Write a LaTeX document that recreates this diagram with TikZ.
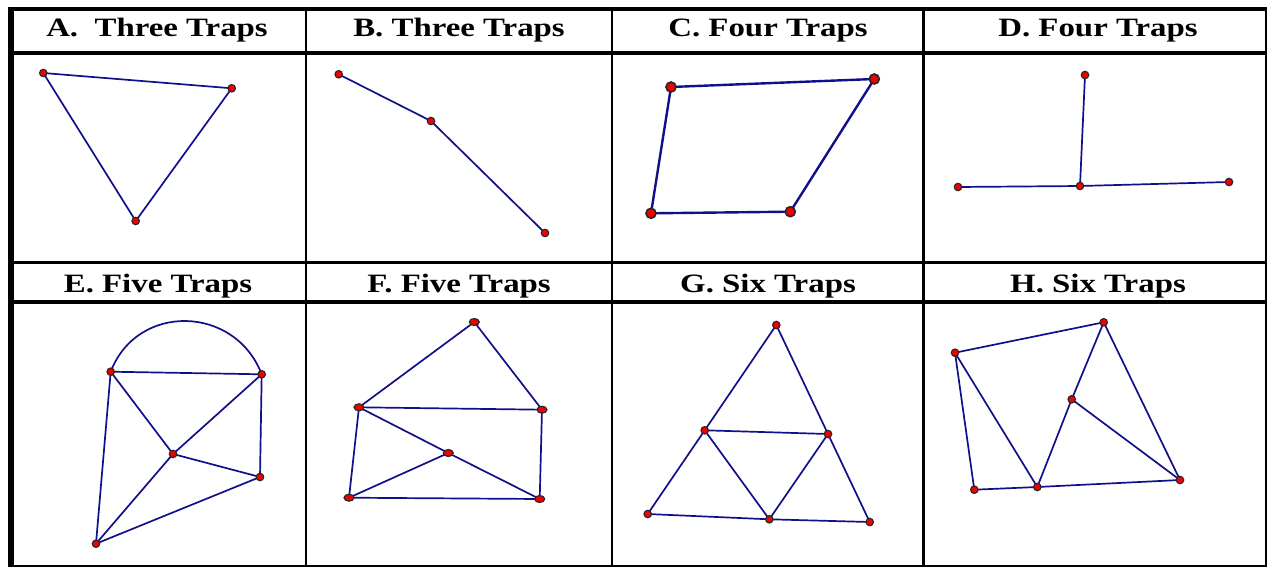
\documentclass[tikz,border=0pt]{standalone}
\usepackage{fontspec}
\newfontfamily\headfont[FakeStretch=1.24]{Liberation Serif}
\usetikzlibrary{shapes.geometric}
\definecolor{edgeblue}{HTML}{10108A}
\definecolor{dotred}{HTML}{F00000}
\tikzset{
  edge/.style={draw=edgeblue, line width=1.7pt},
  edgethick/.style={draw=edgeblue, line width=2.4pt},
  dot/.style={circle, fill=dotred, draw=black!85, line width=1.1pt, inner sep=0pt, minimum size=7.5pt},
  bigdot/.style={circle, fill=dotred, draw=black!85, line width=1.6pt, inner sep=0pt, minimum size=10pt},
  edot/.style={ellipse, fill=dotred, draw=black!85, line width=1.1pt, inner sep=0pt, minimum width=10pt, minimum height=7pt},
  head/.style={anchor=base, font=\headfont\fontsize{26.5}{30}\selectfont\bfseries, inner sep=0pt},
  rule/.style={draw=black}
}
\begin{document}
\begin{tikzpicture}[x=1pt, y=-1pt]
\useasboundingbox (0,0) rectangle (1268,567);
\fill[white] (0,0) rectangle (1268,567);
% ---- table rules
\draw[rule, line width=2pt] (306,9) -- (306,566);
\draw[rule, line width=2pt] (612,9) -- (612,566);
\draw[rule, line width=2.5pt] (923.5,9) -- (923.5,566);
\draw[rule, line width=2pt] (1266,9) -- (1266,566);
\draw[rule, line width=4pt] (8,9) -- (1267,9);
\draw[rule, line width=4pt] (8,53) -- (1267,53);
\draw[rule, line width=3pt] (8,262.5) -- (1267,262.5);
\draw[rule, line width=4pt] (8,302) -- (1267,302);
\draw[rule, line width=2pt] (8,566) -- (1267,566);
\draw[rule, line width=6pt] (11,7) -- (11,567);
% ---- headers
\node[head] (hA) at (157,37) {A.\ \ Three Traps};
\node[head] (hB) at (459,37) {B. Three Traps};
\node[head] (hC) at (768,37) {C. Four Traps};
\node[head] (hD) at (1098,37) {D. Four Traps};
\node[head] (hE) at (158,292) {E. Five Traps};
\node[head] (hF) at (459,292) {F. Five Traps};
\node[head] (hG) at (768,292) {G. Six Traps};
\node[head] (hH) at (1098,292) {H. Six Traps};
% ---- A
\coordinate (a1) at (43.3,73);
\coordinate (a2) at (231.7,88.3);
\coordinate (a3) at (135.7,221);
\draw[edge] (a1) -- (a2);
\draw[edge] (a2) -- (a3);
\draw[edge] (a3) -- (a1);
\foreach \p in {a1,a2,a3} \node[dot] (n\p) at (\p) {};
% ---- B
\coordinate (b1) at (338.7,74.3);
\coordinate (b2) at (431,121);
\coordinate (b3) at (545,233);
\draw[edge] (b1) -- (b2);
\draw[edge] (b2) -- (b3);
\foreach \p in {b1,b2,b3} \node[dot] (n\p) at (\p) {};
% ---- C
\coordinate (c1) at (671,87);
\coordinate (c2) at (874.3,79);
\coordinate (c3) at (790.3,211.7);
\coordinate (c4) at (651,213.3);
\draw[edgethick] (c1) -- (c2);
\draw[edgethick] (c2) -- (c3);
\draw[edgethick] (c3) -- (c4);
\draw[edgethick] (c4) -- (c1);
\foreach \p in {c1,c2,c3,c4} \node[bigdot] (n\p) at (\p) {};
% ---- D
\coordinate (d1) at (1085,75);
\coordinate (d2) at (1080,186);
\coordinate (d3) at (958,187);
\coordinate (d4) at (1229,182);
\draw[edge] (d1) -- (d2);
\draw[edge] (d3) -- (d2);
\draw[edge] (d2) -- (d4);
\foreach \p in {d1,d2,d3,d4} \node[dot] (n\p) at (\p) {};
% ---- E
\coordinate (e1) at (110.7,371.7);
\coordinate (e2) at (261.7,374.3);
\coordinate (e3) at (173,454);
\coordinate (e4) at (260,477);
\coordinate (e5) at (96,543.7);
\draw[edge] (e1) .. controls +(26.5,-69.3) and +(-26.5,-69.3) .. (e2);
\draw[edge] (e1) -- (e2);
\draw[edge] (e1) -- (e3);
\draw[edge] (e2) -- (e3);
\draw[edge] (e2) -- (e4);
\draw[edge] (e3) -- (e4);
\draw[edge] (e1) -- (e5);
\draw[edge] (e3) -- (e5);
\draw[edge] (e4) -- (e5);
\foreach \p in {e1,e2,e3,e4,e5} \node[dot] (n\p) at (\p) {};
% ---- F
\coordinate (f1) at (474.3,322);
\coordinate (f2) at (359,407.3);
\coordinate (f3) at (542,409.7);
\coordinate (f4) at (448.3,453);
\coordinate (f5) at (349,497.7);
\coordinate (f6) at (539.7,499);
\draw[edge] (f1) -- (f2);
\draw[edge] (f1) -- (f3);
\draw[edge] (f2) -- (f3);
\draw[edge] (f2) -- (f4);
\draw[edge] (f4) -- (f6);
\draw[edge] (f5) -- (f4);
\draw[edge] (f2) -- (f5);
\draw[edge] (f3) -- (f6);
\draw[edge] (f5) -- (f6);
\foreach \p in {f1,f2,f3,f4,f5,f6} \node[edot] (n\p) at (\p) {};
% ---- G
\coordinate (g1) at (776.3,325);
\coordinate (g2) at (704.7,430.3);
\coordinate (g3) at (828,434);
\coordinate (g4) at (647.7,514);
\coordinate (g5) at (769.3,519.3);
\coordinate (g6) at (869.7,522);
\draw[edge] (g1) -- (g2);
\draw[edge] (g1) -- (g3);
\draw[edge] (g3) -- (g6);
\draw[edge] (g2) -- (g4);
\draw[edge] (g2) -- (g3);
\draw[edge] (g2) -- (g5);
\draw[edge] (g3) -- (g5);
\draw[edge] (g4) -- (g5);
\draw[edge] (g5) -- (g6);
\foreach \p in {g1,g2,g3,g4,g5,g6} \node[dot] (n\p) at (\p) {};
% ---- H
\coordinate (h1) at (955,352.7);
\coordinate (h2) at (1103.7,322.3);
\coordinate (h3) at (1071.7,399.3);
\coordinate (h4) at (974.3,489.7);
\coordinate (h5) at (1037.3,487);
\coordinate (h6) at (1180,480);
\draw[edge] (h1) -- (h2);
\draw[edge] (h1) -- (h4);
\draw[edge] (h1) -- (h5);
\draw[edge] (h2) -- (h3);
\draw[edge] (h3) -- (h5);
\draw[edge] (h3) -- (h6);
\draw[edge] (h2) -- (h6);
\draw[edge] (h4) -- (h5);
\draw[edge] (h5) -- (h6);
\foreach \p in {h1,h2,h3,h4,h5,h6} \node[dot] (n\p) at (\p) {};
\end{tikzpicture}
\end{document}
